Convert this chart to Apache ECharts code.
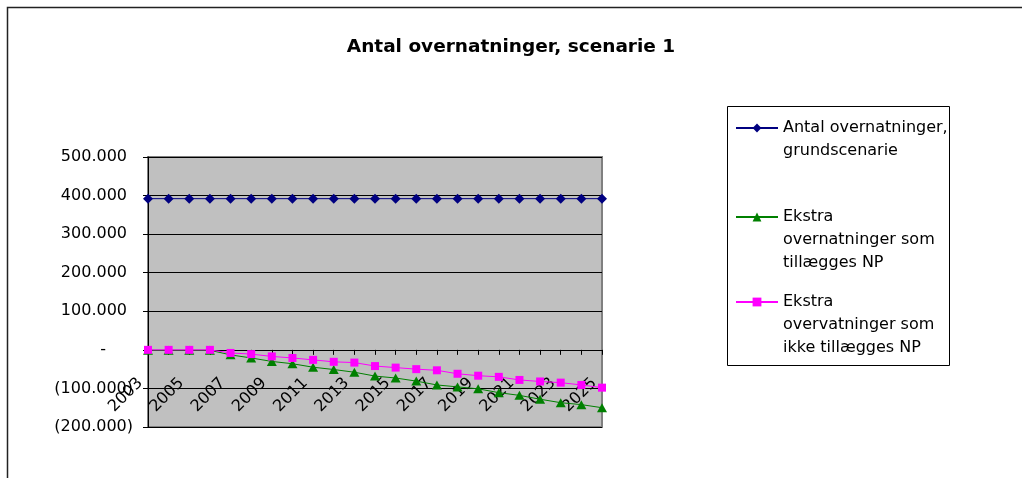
<!DOCTYPE html>
<html>
<head>
<meta charset="utf-8">
<script src="https://cdn.jsdelivr.net/npm/echarts@6/dist/echarts.min.js"></script>
<style>
html,body{margin:0;padding:0;background:#fff;}
#c{width:1022px;height:478px;}
</style>
</head>
<body>
<div id="c"></div>
<script>
const years = ['2003','2004','2005','2006','2007','2008','2009','2010','2011','2012','2013','2014','2015','2016','2017','2018','2019','2020','2021','2022','2023','2024','2025'];
const baseScenario = [392000,392000,392000,392000,392000,392000,392000,392000,392000,392000,392000,392000,392000,392000,392000,392000,392000,392000,392000,392000,392000,392000,392000];
const extraNP = [-1000,-1000,-1000,-1000,-13000,-21000,-30000,-36000,-45000,-51000,-58000,-68000,-73000,-81000,-91000,-96000,-101000,-111000,-118000,-128000,-137000,-142000,-150000];
const extraNotNP = [0,0,0,0,-8000,-11000,-17000,-21000,-26000,-31000,-33000,-42000,-46000,-50000,-53000,-62000,-67000,-70000,-78000,-82000,-85000,-91000,-98000];
const seriesNames = ['Antal overnatninger,\ngrundscenarie','Ekstra\novernatninger som\ntillægges NP','Ekstra\novervatninger som\nikke tillægges NP'];
const titleText = 'Antal overnatninger, scenarie 1';
const yMin = -200000, yMax = 500000, yStep = 100000;

const FONT = 'DejaVu Sans';
const chart = echarts.init(document.getElementById('c'), null, {renderer:'canvas'});

function yFmt(v){
  if (v === 0) return '{z|-}';
  const s = (Math.abs(v)/1000) + '.000';
  if (v < 0) return '{n|(' + s + ')}';
  return '{p|' + s + '}';
}

function legendFor(i, top, blanks){
  return {
    data:[{name:seriesNames[i]}],
    orient:'vertical', left:735, top:top, padding:0,
    itemWidth:42, itemHeight:11, selectedMode:false,
    formatter: function(name){ return blanks + name; },
    textStyle:{fontFamily:FONT, fontSize:16, lineHeight:23, color:'#000'}
  };
}

const gridTop = 157, gridBottom = 51, H = 478;
const plotH = H - gridTop - gridBottom;
// shift bottom x-axis up to the zero line of the value axis
const zeroOffset = -plotH * (0 - yMin) / (yMax - yMin);

chart.setOption({
  animation:false,
  backgroundColor:'#fff',
  title:{text:titleText, left:'center', top:38, padding:[0,0,0,0],
    textStyle:{fontFamily:FONT, fontSize:18.5, fontWeight:'bold', color:'#000'}},
  legend:[
    legendFor(0, 128-34.5, '\n'),
    legendFor(1, 217-57.5, '\n\n'),
    legendFor(2, 302-57.5, '\n\n')
  ],
  graphic:[
    {type:'rect', shape:{x:7.5,y:7.5,width:1100,height:600}, style:{fill:null, stroke:'#222', lineWidth:1.5}, silent:true},
    {type:'rect', shape:{x:727.5,y:106.5,width:222,height:259}, style:{fill:null, stroke:'#000', lineWidth:1}, silent:true, z:-1}
  ],
  grid:{left:148, right:420, top:gridTop, bottom:gridBottom, show:true, backgroundColor:'#c0c0c0', borderColor:'#808080', borderWidth:2,
    containLabel:false, outerBoundsMode:'none'},
  xAxis:{
    type:'category', data:years, boundaryGap:false, offset:zeroOffset,
    axisLine:{onZero:false, lineStyle:{color:'#000', width:1}},
    axisTick:{show:true, interval:0, length:5, inside:false, lineStyle:{color:'#000'}},
    axisLabel:{fontFamily:FONT, fontSize:16, color:'#000', interval:1, rotate:45, margin:23,
      formatter: function(v){ return '{a|' + v + '}'; },
      rich:{a:{fontFamily:FONT, fontSize:16, color:'#000', padding:[0,11,0,0]}}},
    splitLine:{show:false}
  },
  yAxis:{
    type:'value', min:yMin, max:yMax, interval:yStep,
    axisLine:{show:true, onZero:false, lineStyle:{color:'#000', width:1}},
    axisTick:{show:true, length:5, lineStyle:{color:'#000'}},
    splitLine:{show:true, lineStyle:{color:'#000', width:1}},
    axisLabel:{fontFamily:FONT, fontSize:16, color:'#000', margin:15, formatter:yFmt,
      rich:{
        p:{fontFamily:FONT, fontSize:16, color:'#000', padding:[0,6,0,0]},
        z:{fontFamily:FONT, fontSize:16, color:'#000', padding:[0,27,0,0]},
        n:{fontFamily:FONT, fontSize:16, color:'#000'}
      }}
  },
  series:[
    {name:seriesNames[0], type:'line', data:baseScenario, symbol:'diamond', symbolSize:[10,10],
      itemStyle:{color:'#000080'}, lineStyle:{color:'#000080', width:1}},
    {name:seriesNames[1], type:'line', data:extraNP, symbol:'triangle', symbolSize:[10,9],
      itemStyle:{color:'#008000'}, lineStyle:{color:'#008000', width:1}},
    {name:seriesNames[2], type:'line', data:extraNotNP, symbol:'rect', symbolSize:[8,8],
      itemStyle:{color:'#ff00ff'}, lineStyle:{color:'#ff00ff', width:1}}
  ]
});
</script>
</body>
</html>
